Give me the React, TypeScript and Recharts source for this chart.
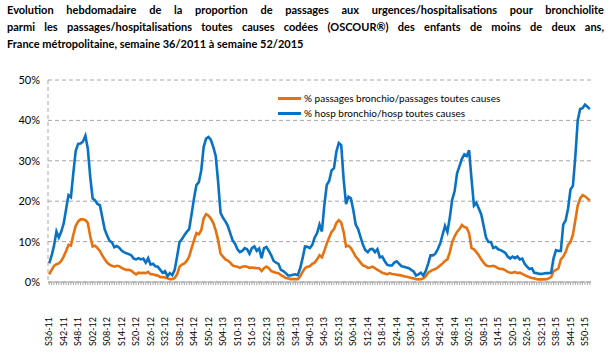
import React from "react";
import { LineChart, Line, XAxis, YAxis, CartesianGrid, Legend } from "recharts";

// Weekly share (%) of bronchiolitis among all coded ER visits / hospitalisations,
// children < 2 years, S36-2011 .. S52-2015
const PASSAGES = [
  1.9, 3.0, 4.0, 4.4, 4.6, 5.2, 6.3, 7.7, 9.2, 9.0, 11.7, 13.9, 15.0, 15.5, 15.5, 15.3, 14.6, 11.3,
  8.8, 9.0, 8.4, 7.7, 6.6, 5.6, 4.8, 4.3, 4.0, 3.8, 4.0, 3.9, 3.5, 3.2, 3.0, 3.0, 2.8, 2.3,
  1.9, 2.3, 2.2, 2.3, 2.2, 2.5, 1.9, 1.9, 1.7, 1.6, 1.2, 1.2, 1.1, 0.9, 0.7, 0.7, 1.0, 1.9,
  3.8, 4.3, 4.6, 5.2, 6.3, 8.4, 10.3, 12.1, 11.8, 12.8, 15.7, 16.8, 16.4, 15.7, 14.6, 12.8,
  10.3, 7.0, 6.3, 5.6, 5.3,
  4.8, 4.1, 3.9, 3.8, 3.5, 3.8, 3.9, 3.8, 3.5, 3.6, 3.5, 3.4, 3.4, 2.7, 3.4, 3.8, 3.4, 2.7,
  2.5, 2.3, 2.2, 1.7, 1.4, 1.0, 0.9, 0.7, 0.7, 0.7, 0.7, 1.4, 2.5, 3.4, 3.8, 3.9, 4.5, 4.8,
  5.6, 6.6,
  6.1, 7.7, 9.5, 11.0, 12.4, 13.1, 14.6, 15.3, 14.7, 12.4, 8.8, 9.0, 8.4, 7.4, 6.3, 5.6, 4.8,
  4.1, 3.9, 3.5, 3.6, 3.8, 3.4, 3.0, 2.7, 2.3, 2.1, 1.9, 2.2, 2.0, 1.9, 1.8, 1.7, 1.6, 1.4,
  1.3, 1.2, 1.0, 0.9,
  0.7, 0.65, 0.7, 0.9, 1.4, 2.3, 2.7, 3.0, 3.2, 3.6, 4.1, 4.6, 5.2, 5.6, 7.4, 9.9, 11.3, 12.4,
  13.1, 14.1, 13.6, 13.4, 12.0, 8.4, 8.1, 7.4, 6.6, 5.6, 4.8, 4.1, 3.9, 3.9, 4.0, 3.8, 3.4,
  3.2, 3.2, 2.9,
  2.5, 2.3, 2.3, 2.5, 2.2, 2.3, 2.0, 1.7, 1.4, 1.2, 1.0, 0.9, 0.7, 0.65, 0.65, 0.65, 0.7, 0.9,
  1.2, 2.7, 3.0, 3.4, 5.6, 6.3, 7.4, 9.2, 9.9, 11.7, 15.3, 18.9, 20.7, 21.5, 21.2, 20.7, 20.2,
];

const HOSP = [
  4.6, 6.5, 9.0, 12.5, 11.0, 12.5, 14.5, 18.0, 21.5, 21.0, 27.0, 32.5, 34.2, 34.3, 34.8, 36.2,
  33.0, 26.0, 20.7, 20.2, 19.3, 19.0, 16.0, 13.0, 11.5, 10.2, 9.8, 8.6, 8.9, 8.5, 7.8, 7.4, 7.1,
  6.9, 6.6, 5.8,
  5.6, 5.9, 5.6, 5.8, 4.8, 5.9, 4.3, 4.5, 3.9, 3.8, 3.0, 2.3, 2.7, 1.4, 2.2, 1.7, 3.0, 6.3, 9.9,
  10.6, 11.6, 12.4, 13.1, 16.8, 20.7, 24.0, 24.7, 27.6, 33.4, 35.5, 35.9, 35.2, 33.4, 31.2, 24.7,
  17.1, 15.9, 15.0, 13.9,
  12.1, 10.3, 9.5, 8.1, 7.4, 7.7, 8.4, 8.1, 7.0, 8.4, 8.8, 7.7, 8.3, 5.9, 8.4, 8.7, 7.7, 6.6,
  5.2, 4.8, 4.5, 3.0, 2.7, 2.2, 1.6, 1.6, 1.8, 1.9, 1.7, 3.4, 5.9, 8.8, 8.7, 8.4, 9.2, 11.0,
  12.1, 14.2,
  12.5, 19.0, 24.0, 25.0, 27.6, 28.2, 32.3, 34.4, 33.9, 25.4, 19.3, 21.1, 20.7, 17.8, 14.2, 13.1,
  11.1, 9.2, 7.9, 7.4, 8.1, 8.2, 7.4, 8.1, 6.1, 6.3, 5.2, 4.3, 4.1, 4.1, 4.8, 5.1, 4.5, 3.9,
  3.8, 3.6, 3.4, 3.0, 2.6,
  1.6, 1.9, 2.3, 1.6, 2.7, 4.5, 6.6, 6.6, 7.0, 8.1, 9.5, 11.7, 13.9, 12.4, 16.0, 20.4, 22.5,
  26.9, 28.7, 30.5, 31.6, 31.2, 32.6, 25.4, 18.9, 19.6, 18.2, 16.8, 13.9, 11.0, 9.9, 9.9, 8.4,
  8.7, 8.1, 7.9, 7.6, 7.2,
  6.3, 5.8, 6.3, 5.9, 6.3, 5.6, 5.8, 4.5, 3.8, 3.2, 3.4, 2.3, 2.2, 2.0, 2.0, 2.1, 2.2, 2.2, 2.3,
  5.9, 7.9, 7.7, 7.7, 14.2, 15.3, 18.2, 22.9, 23.8, 31.0, 40.0, 42.8, 43.0, 43.9, 43.4, 42.8,
];

const TICK_LABELS = [
  "S36-11", "S42-11", "S48-11", "S02-12", "S08-12", "S14-12", "S20-12", "S26-12",
  "S32-12", "S38-12", "S44-12", "S50-12", "S04-13", "S10-13", "S16-13", "S22-13",
  "S28-13", "S34-13", "S40-13", "S46-13", "S52-13", "S06-14", "S12-14", "S18-14",
  "S24-14", "S30-14", "S36-14", "S42-14", "S48-14", "S02-15", "S08-15", "S14-15",
  "S20-15", "S26-15", "S32-15", "S38-15", "S44-15", "S50-15",
];

const Y_TICKS = [0, 10, 20, 30, 40, 50];

const TITLE_LINES = [
  "Evolution hebdomadaire de la proportion de passages aux urgences/hospitalisations pour bronchiolite",
  "parmi les passages/hospitalisations toutes causes codées (OSCOUR®) des enfants de moins de deux ans,",
  "France métropolitaine, semaine 36/2011 à semaine 52/2015",
];

const ORANGE = "#E8710F";
const BLUE = "#0A72C4";
const FONT = "Lato, 'Liberation Sans', sans-serif";

// week categories S36-11 .. S52-15
const WEEKS: string[] = [];
{
  let yr = 11;
  let wk = 36;
  while (WEEKS.length < HOSP.length) {
    WEEKS.push(`S${String(wk).padStart(2, "0")}-${yr}`);
    wk++;
    if (wk > 52) {
      wk = 1;
      yr++;
    }
  }
}

const data = WEEKS.map((w, i) => ({ week: w, passages: PASSAGES[i], hosp: HOSP[i] }));

const WeekTick = (props: any) => {
  const { x, payload } = props;
  if (!TICK_LABELS.includes(payload.value)) return null;
  const y = 317;
  return (
    <text
      x={x}
      y={y}
      transform={`rotate(-90, ${x}, ${y})`}
      textAnchor="end"
      dy="0.35em"
      fontSize={9}
      fontFamily={FONT}
      fill="#000"
    >
      {payload.value}
    </text>
  );
};

const LegendBox = () => (
  <div style={{ fontFamily: FONT, fontSize: 10, color: "#000", lineHeight: "15px" }}>
    {[
      { c: ORANGE, t: "% passages bronchio/passages toutes causes" },
      { c: BLUE, t: "% hosp bronchio/hosp toutes causes" },
    ].map((r) => (
      <div key={r.t} style={{ display: "flex", alignItems: "center" }}>
        <span style={{ display: "inline-block", width: 23, height: 3, background: r.c, marginRight: 3 }} />
        <span>{r.t}</span>
      </div>
    ))}
  </div>
);

export default function App() {
  return (
    <div
      style={{
        position: "absolute",
        left: 0,
        top: 0,
        width: 609,
        height: 354,
        overflow: "hidden",
        background: "#fff",
      }}
    >
      <div
        style={{
          position: "absolute",
          left: 7,
          top: 1,
          width: 597,
          fontFamily: FONT,
          fontWeight: 700,
          fontSize: 11,
          lineHeight: "17px",
          color: "#000",
        }}
      >
        {TITLE_LINES.map((t, i) => (
          <div
            key={i}
            style={{
              textAlign: i < 2 ? "justify" : "left",
              textAlignLast: i < 2 ? "justify" : "left",
              whiteSpace: "nowrap",
            }}
          >
            {i < 2 ? <span style={{ display: "block", whiteSpace: "normal" }}>{t}</span> : t}
          </div>
        ))}
      </div>
      <div style={{ position: "absolute", left: 0, top: 0 }}>
        <LineChart width={609} height={354} data={data} margin={{ top: 80, right: 18, bottom: 0, left: 0 }}>
          <CartesianGrid vertical={false} stroke="#A6A6A6" strokeDasharray="4 3" />
          <XAxis
            dataKey="week"
            interval={0}
            height={42}
            padding={{ left: 1.2, right: 1.2 }}
            tick={<WeekTick />}
            tickSize={3}
            tickLine={{ stroke: "#A6A6A6" }}
            axisLine={{ stroke: "#A6A6A6" }}
          />
          <YAxis
            width={48}
            domain={[0, 50]}
            ticks={Y_TICKS}
            tickFormatter={(v: number) => `${v}%`}
            tickLine={false}
            axisLine={{ stroke: "#A6A6A6", strokeDasharray: "4 3" }}
            tick={{ fontSize: 11, fontFamily: FONT, fill: "#000" }}
          />
          <Legend
            content={<LegendBox />}
            wrapperStyle={{ position: "absolute", left: 278, top: 91, width: 260 }}
          />
          <Line
            dataKey="passages"
            stroke={ORANGE}
            strokeWidth={2.6}
            dot={false}
            type="linear"
            isAnimationActive={false}
          />
          <Line
            dataKey="hosp"
            stroke={BLUE}
            strokeWidth={2.6}
            dot={false}
            type="linear"
            isAnimationActive={false}
          />
        </LineChart>
      </div>
    </div>
  );
}
